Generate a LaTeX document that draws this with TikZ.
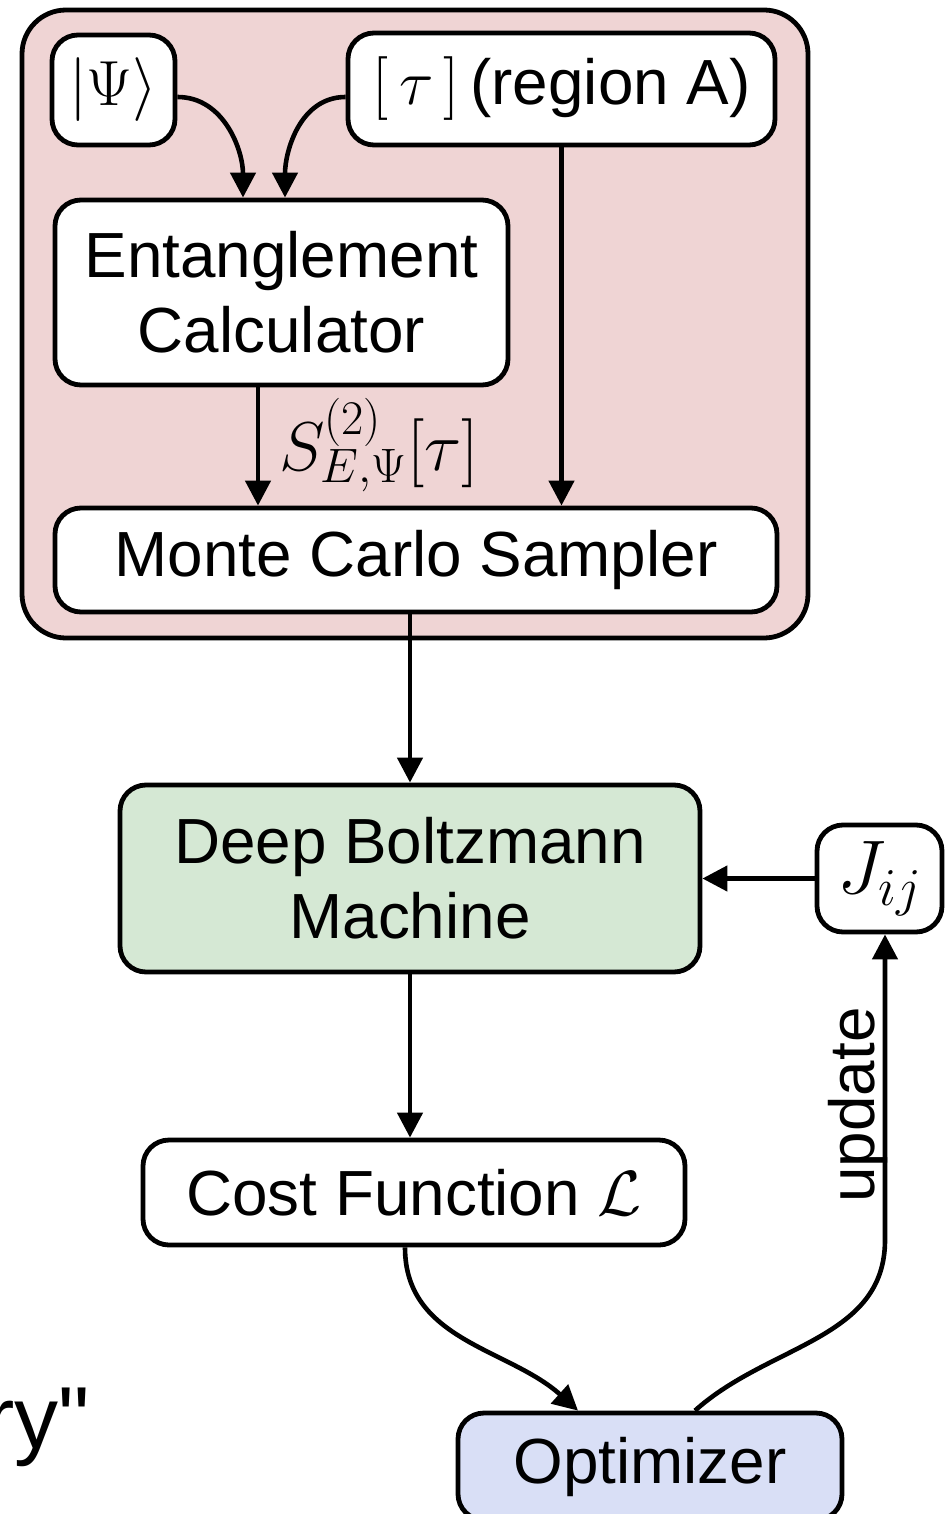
\RequirePackage{fix-cm}
\documentclass[tikz,border=0pt]{standalone}
\usepackage{fontspec}
\setmainfont{Liberation Sans}
\usetikzlibrary{arrows.meta}
\definecolor{groupfill}{HTML}{EFD4D4}
\definecolor{dbmfill}{HTML}{D5E8D4}
\definecolor{optfill}{HTML}{D9DFF6}
\begin{document}
\begin{tikzpicture}[x=0.5pt,y=-0.5pt,
  box/.style={draw, line width=2.4pt, rounded corners=13pt, fill=white,
    align=center, inner sep=0pt, font=\fontsize{31.9}{37.5}\selectfont},
  arr/.style={line width=2.3pt, -{Triangle[width=12.5pt,length=12.5pt]}},
  lbl/.style={inner sep=0pt, font=\fontsize{31.9}{37.5}\selectfont}]
\useasboundingbox (0,0) rectangle (952,1514);
\clip (0,0) rectangle (952,1514);

% group holding the sampling stage
\draw[line width=2.4pt, rounded corners=22pt, fill=groupfill] (22,10) rectangle (808,638);

\node[box, minimum width=61.5pt, minimum height=55pt] (psi) at (113.5,90) {$|\Psi\rangle$};
\node[box, minimum width=213.5pt, minimum height=56pt] (tau) at (561.5,89) {$[\,\tau\,]$\,(region A)};
\node[box, minimum width=226.5pt, minimum height=92.5pt] (ent) at (281.5,292.5) {Entanglement\\Calculator};
\node[box, minimum width=361pt, minimum height=52pt] (mcs) at (416,560) {Monte Carlo Sampler};
\node[box, fill=dbmfill, minimum width=290pt, minimum height=93.5pt] (dbm) at (410,878.5) {Deep Boltzmann\\Machine};
\node[box, minimum width=62.5pt, minimum height=53.5pt, font=\fontsize{38}{44}\selectfont] (jij) at (879.5,878.5) {$J_{ij}$};
\node[box, minimum width=271pt, minimum height=52.5pt] (cost) at (414,1192.5) {Cost Function $\mathcal{L}$};
\node[box, fill=optfill, minimum width=192pt, minimum height=53.5pt] (opt) at (650,1466.5) {Optimizer};

\node[inner sep=0pt, anchor=base east, font=\fontsize{44}{50}\selectfont] (ry) at (90,1448) {ry\textquotedbl};
\node[lbl, font=\fontsize{34.5}{40}\selectfont] (slab) at (379,445) {$S^{(2)}_{E,\Psi}[\tau]$};
\node[lbl, rotate=90] (upd) at (858,1105) {update};

% connectors
\coordinate (e1) at ([xshift=-19.25pt]ent.north);
\coordinate (e2) at ([xshift=1.75pt]ent.north);
\coordinate (e3) at ([xshift=-11.75pt]ent.south);
\coordinate (c1) at ([xshift=-4.5pt]cost.south);
\coordinate (o1) at ([xshift=-36pt]opt.north);
\coordinate (o2) at ([xshift=22.5pt]opt.north);
\coordinate (ju) at ([xshift=2.75pt]jij.south);
\coordinate (bend) at (885,1240);

\draw[arr] ([yshift=-3.5pt]psi.east) to[out=0,in=90] (e1);
\draw[arr] ([yshift=-4pt]tau.west) to[out=180,in=90] (e2);
\draw[arr] (tau.south) -- (tau.south |- mcs.north);
\draw[arr] (e3) -- (e3 |- mcs.north);
\draw[arr] (mcs.south -| dbm.north) -- (dbm.north);
\draw[arr] (jij.west) -- (dbm.east);
\draw[arr] (dbm.south) -- (dbm.south |- cost.north);
\draw[arr] (c1) to[out=-90,in=138] (o1);
\draw[arr] (o2) to[out=42,in=-90] (bend) -- (ju);
\end{tikzpicture}
\end{document}
